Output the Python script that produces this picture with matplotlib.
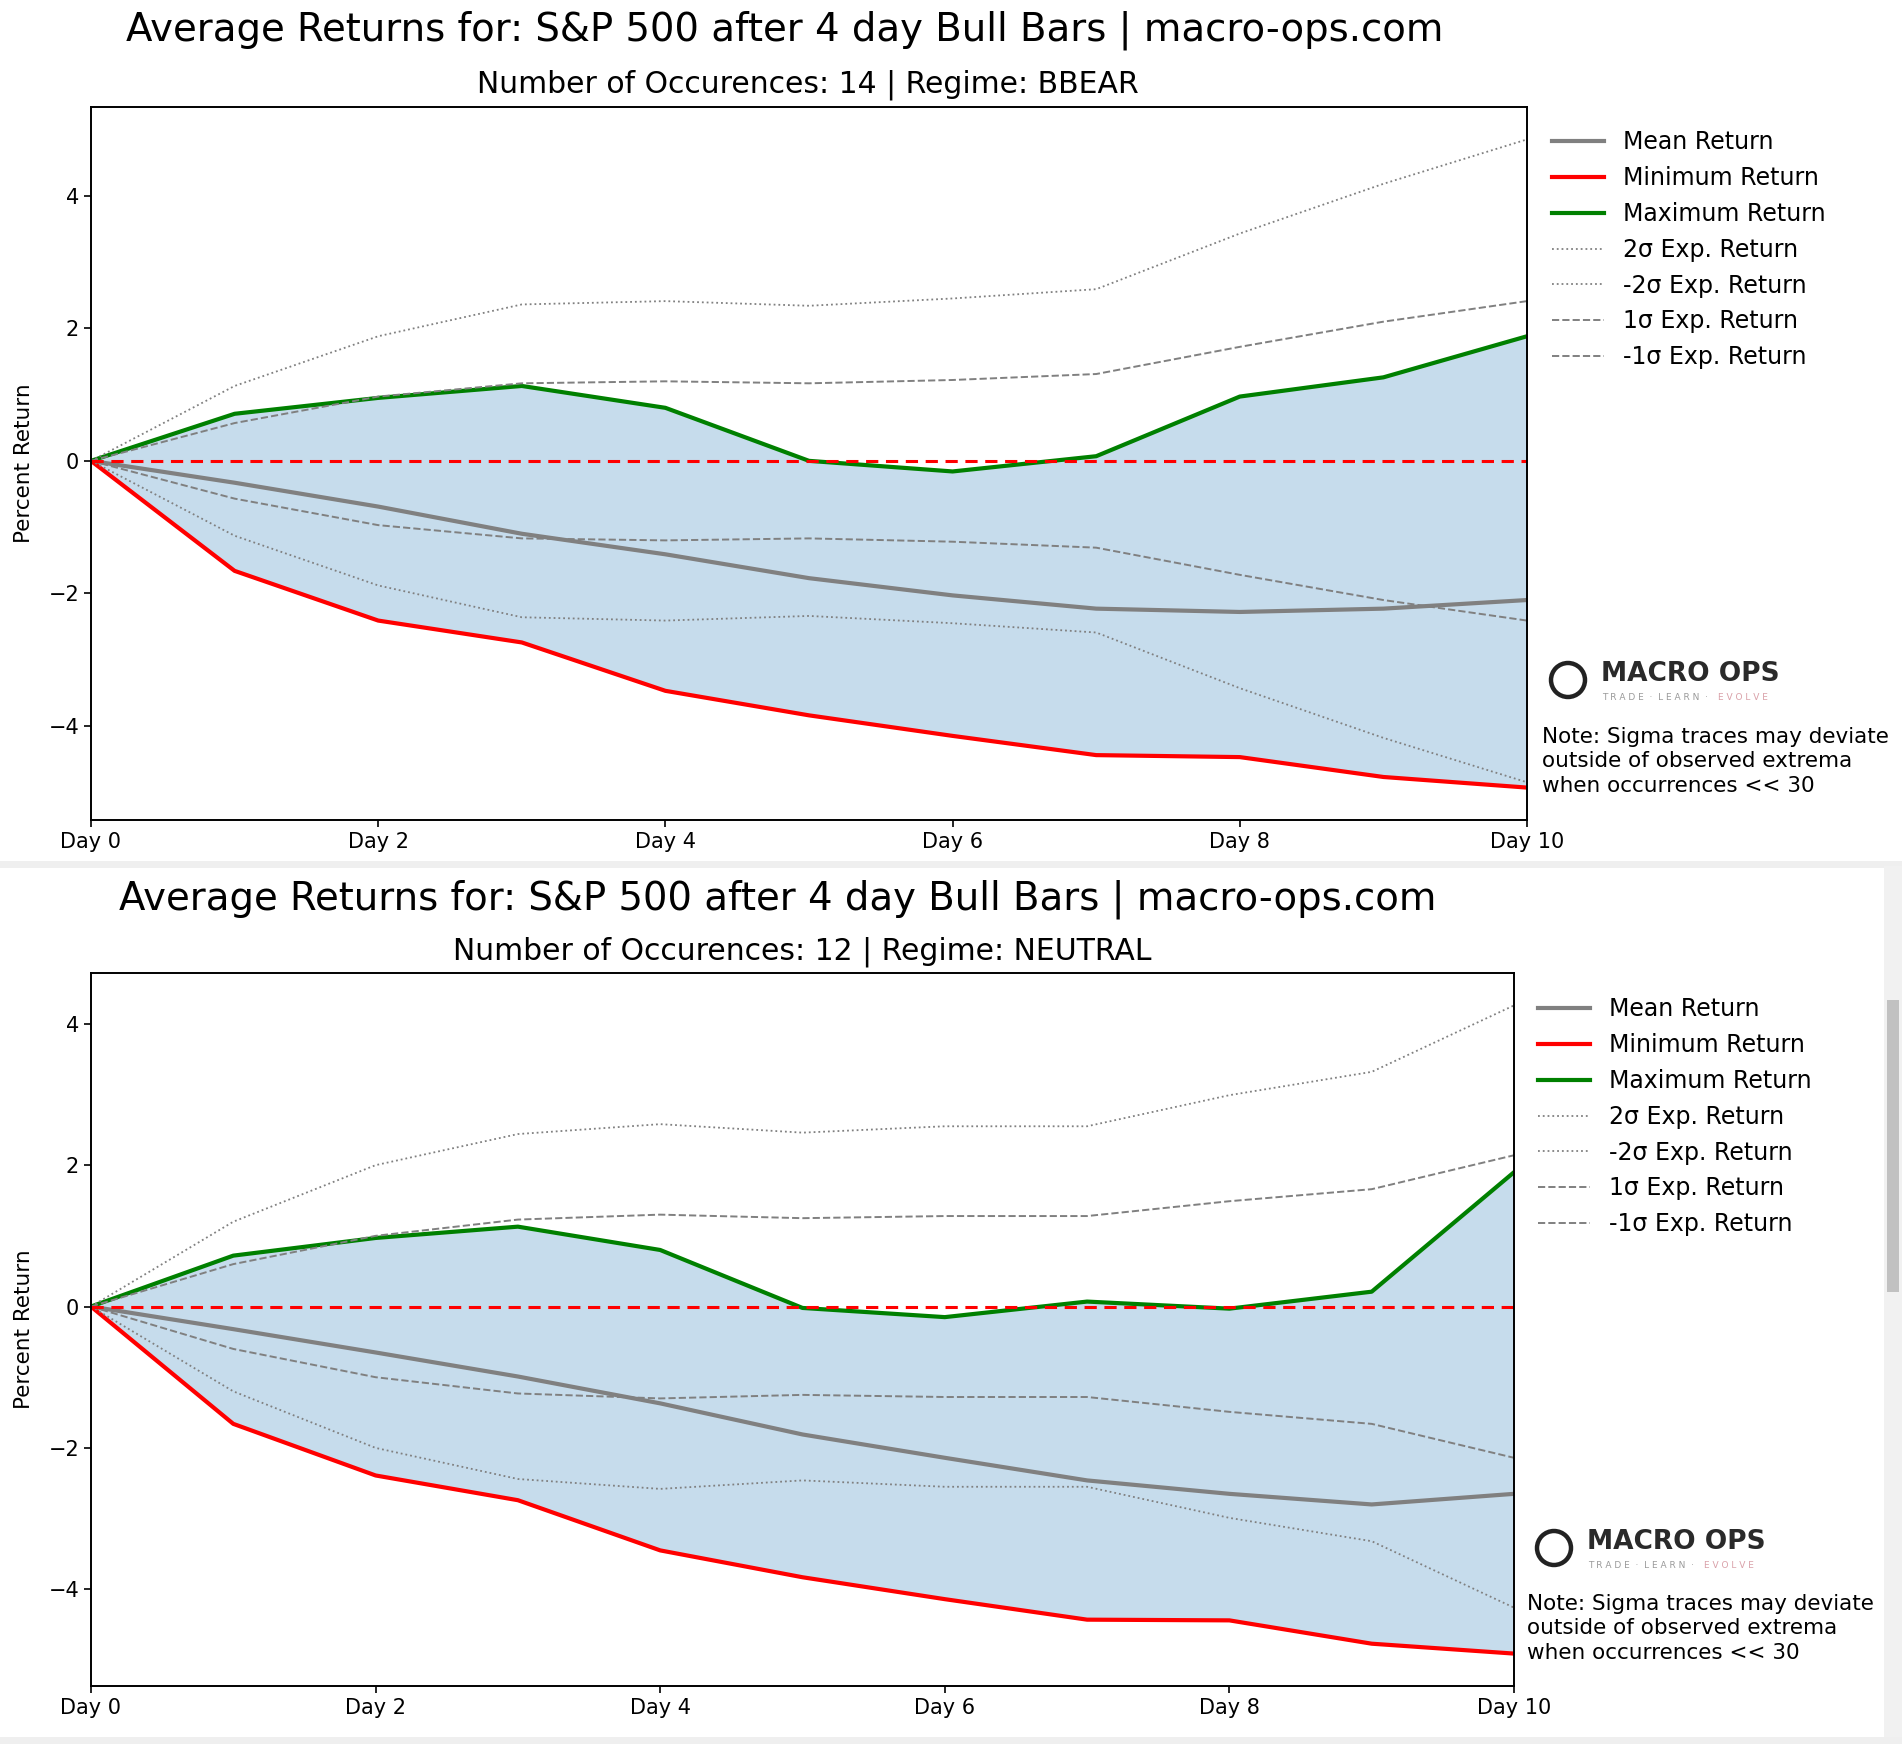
import matplotlib
matplotlib.use('Agg')
import matplotlib.pyplot as plt
from matplotlib.patches import Rectangle, Ellipse

W, H = 1902, 1744

# x axis: trading days after the signal
days = list(range(11))
day_labels = ['Day 0', 'Day 2', 'Day 4', 'Day 6', 'Day 8', 'Day 10']

# Regime BBEAR (14 occurences)
bbear_mean = [0, -0.33, -0.69, -1.10, -1.41, -1.77, -2.03, -2.23, -2.28, -2.23, -2.10]
bbear_min = [0, -1.66, -2.41, -2.74, -3.47, -3.84, -4.15, -4.44, -4.47, -4.77, -4.93]
bbear_max = [0, 0.71, 0.95, 1.13, 0.80, 0.00, -0.16, 0.07, 0.97, 1.26, 1.88]
bbear_sig1 = [0, 0.57, 0.97, 1.17, 1.20, 1.17, 1.22, 1.31, 1.72, 2.10, 2.41]
bbear_sig2 = [0, 1.13, 1.88, 2.36, 2.41, 2.34, 2.45, 2.59, 3.43, 4.18, 4.85]

# Regime NEUTRAL (12 occurences)
neutral_mean = [0, -0.32, -0.65, -0.99, -1.37, -1.81, -2.14, -2.46, -2.65, -2.80, -2.65]
neutral_min = [0, -1.66, -2.39, -2.74, -3.45, -3.83, -4.14, -4.43, -4.44, -4.77, -4.91]
neutral_max = [0, 0.72, 0.97, 1.13, 0.80, -0.02, -0.15, 0.07, -0.03, 0.21, 1.90]
neutral_sig1 = [0, 0.60, 1.00, 1.23, 1.30, 1.25, 1.28, 1.28, 1.49, 1.66, 2.14]
neutral_sig2 = [0, 1.20, 2.00, 2.44, 2.58, 2.46, 2.55, 2.55, 2.99, 3.32, 4.26]

title = 'Average Returns for: S&P 500 after 4 day Bull Bars | macro-ops.com'
note = 'Note: Sigma traces may deviate\noutside of observed extrema\nwhen occurrences << 30'


def fx(px):
    return px / W


def fy(py):
    return 1 - py / H


fig = plt.figure(figsize=(W / 100, H / 100), dpi=100)


def draw_panel(box, mean, mn, mx, s1, s2, n, regime, title_xy, sub_xy, leg_xy, logo_xy, note_xy):
    left, top, right, bottom = box
    ax = fig.add_axes([fx(left), fy(bottom), fx(right - left), (bottom - top) / H])
    neg1 = [-v for v in s1]
    neg2 = [-v for v in s2]
    ax.fill_between(days, mn, mx, color='tab:blue', alpha=0.25, lw=0)
    ax.plot(days, mean, color='grey', lw=3, label='Mean Return')
    ax.plot(days, mn, color='red', lw=3, label='Minimum Return')
    ax.plot(days, mx, color='green', lw=3, label='Maximum Return')
    ax.plot(days, s2, ':', color='grey', lw=1.3, label='2σ Exp. Return')
    ax.plot(days, neg2, ':', color='grey', lw=1.3, label='-2σ Exp. Return')
    ax.plot(days, s1, '--', color='grey', lw=1.4, label='1σ Exp. Return')
    ax.plot(days, neg1, '--', color='grey', lw=1.4, label='-1σ Exp. Return')
    ax.axhline(0, color='red', ls='--', lw=2.2, dashes=(4, 2.5))
    ax.set_xlim(0, 10)
    ax.set_xticks(range(0, 11, 2))
    ax.set_xticklabels(day_labels)
    ax.set_yticks([-4, -2, 0, 2, 4])
    ax.tick_params(labelsize=15, length=5, width=1.2)
    for s in ax.spines.values():
        s.set_linewidth(1.4)
    ax.set_ylabel('Percent Return', fontsize=15.5)
    ax.yaxis.set_label_coords((34 - left) / (right - left), 0.5)
    ax.legend(loc='upper left', bbox_to_anchor=(fx(leg_xy[0]), fy(leg_xy[1])),
              bbox_transform=fig.transFigure, frameon=False, fontsize=17,
              handlelength=2.2, handletextpad=0.8, labelspacing=0.5, borderaxespad=0)
    fig.text(fx(title_xy[0]), fy(title_xy[1]), title, fontsize=27.8, ha='center', va='center')
    fig.text(fx(sub_xy[0]), fy(sub_xy[1]), f'Number of Occurences: {n} | Regime: {regime}',
             fontsize=21.5, ha='center', va='center')
    # logo
    cx, cy = logo_xy
    fig.add_artist(Ellipse((fx(cx), fy(cy)), 34 / W, 34 / H, transform=fig.transFigure,
                           fill=False, lw=3.2, color='#222222'))
    fig.text(fx(cx + 33), fy(cy - 6), 'MACRO OPS', fontsize=19, fontweight='bold',
             color='#2a2a2a', ha='left', va='center')
    fig.text(fx(cx + 34), fy(cy + 17), 'T R A D E  ·  L E A R N  · ', fontsize=6.5,
             color='#9a9a9a', ha='left', va='center')
    fig.text(fx(cx + 150), fy(cy + 17), 'E V O L V E', fontsize=6.5,
             color='#d9a0a8', ha='left', va='center')
    fig.text(fx(note_xy[0]), fy(note_xy[1]), note, fontsize=15.5, ha='left', va='top',
             linespacing=1.27)
    return ax


draw_panel((91, 107, 1527, 820), bbear_mean, bbear_min, bbear_max, bbear_sig1, bbear_sig2,
           14, 'BBEAR', (785, 30), (808, 85), (1543, 121), (1568, 680), (1542, 727))
draw_panel((91, 973, 1514, 1686), neutral_mean, neutral_min, neutral_max, neutral_sig1,
           neutral_sig2, 12, 'NEUTRAL', (778, 899), (802, 952), (1529, 988), (1554, 1548),
           (1527, 1594))

# screenshot chrome: separator band and scrollbar
fig.add_artist(Rectangle((0, fy(868)), 1, 7 / H, transform=fig.transFigure,
                         color='#efefef', lw=0))
fig.add_artist(Rectangle((fx(1884), 0), 18 / W, fy(866), transform=fig.transFigure,
                         color='#f1f1f1', lw=0))
fig.add_artist(Rectangle((fx(1887), fy(1292)), 12 / W, 292 / H, transform=fig.transFigure,
                         color='#c1c1c1', lw=0))
fig.add_artist(Rectangle((0, 0), 1, 7 / H, transform=fig.transFigure,
                         color='#efefef', lw=0))

fig.savefig('out.png', dpi=100)
